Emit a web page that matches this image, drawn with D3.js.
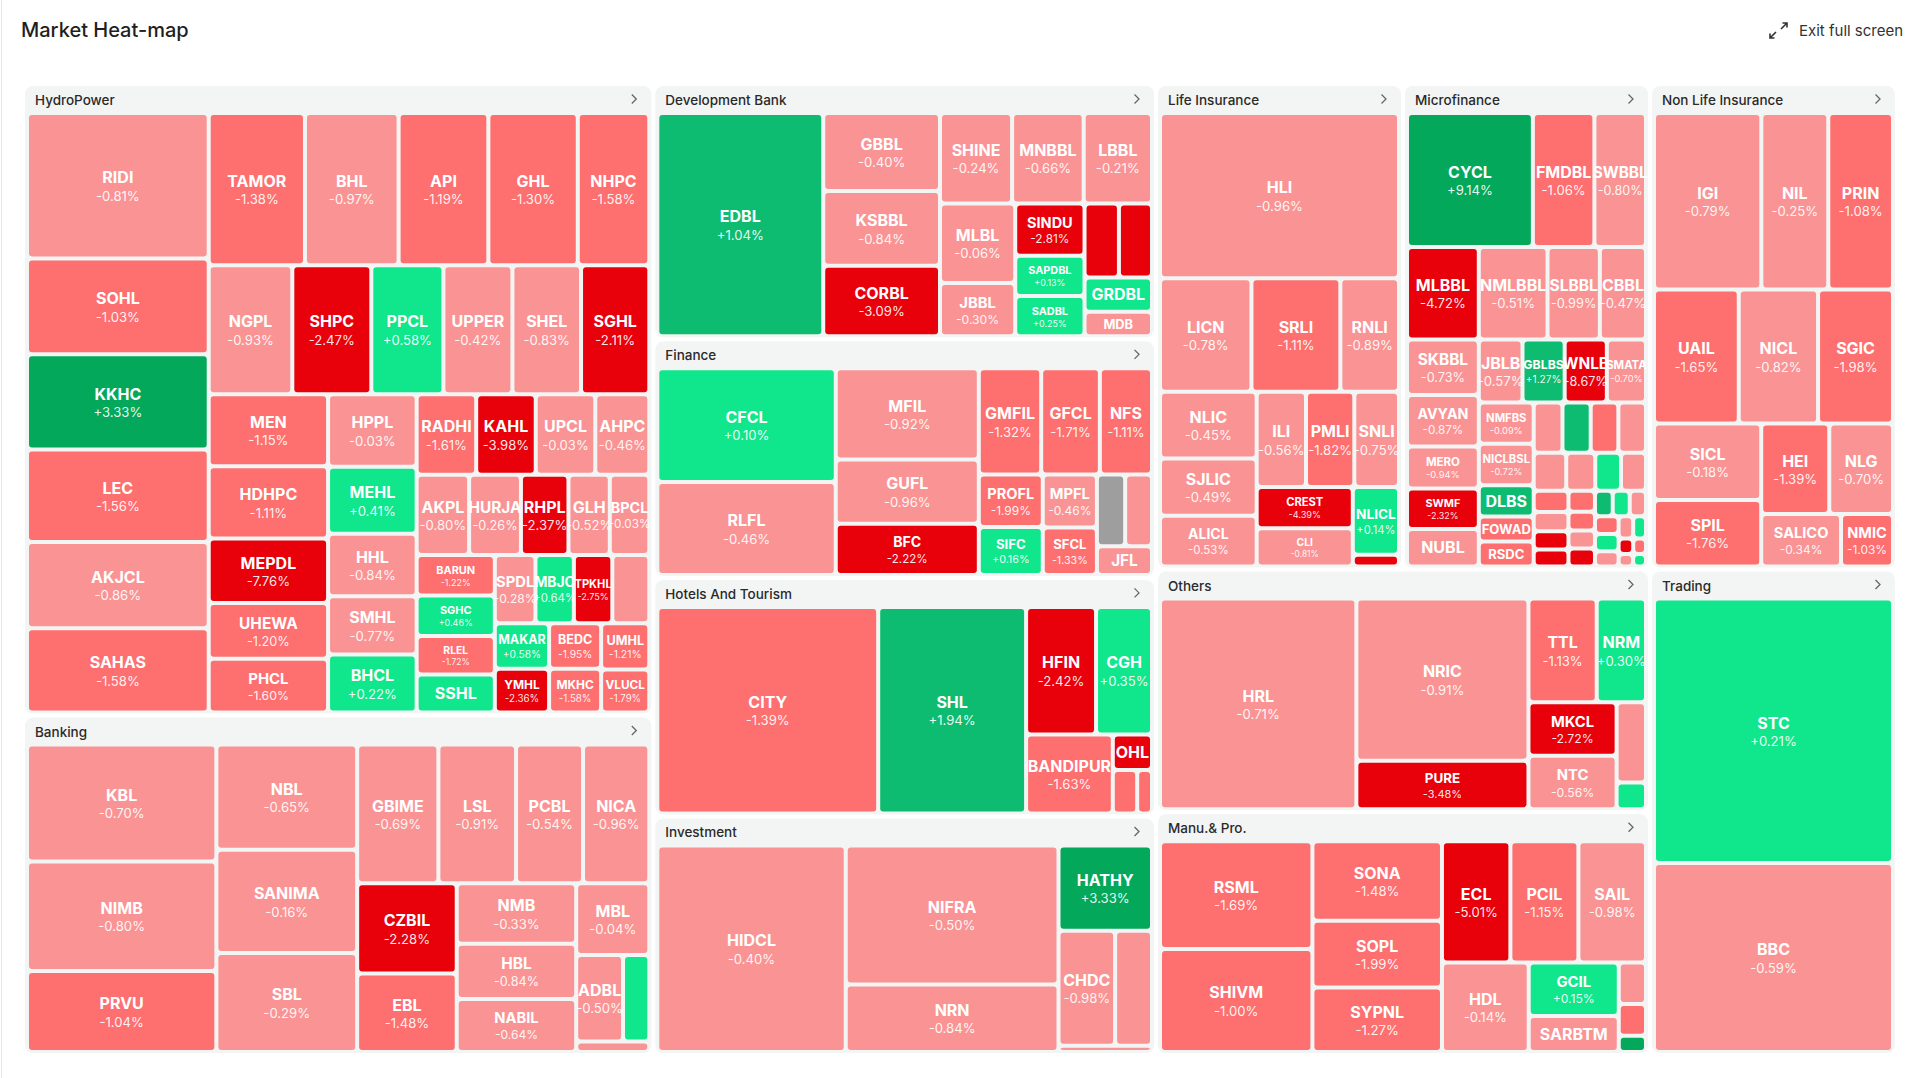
<!doctype html>
<html>
  <head>
    <meta charset="utf-8">
    <title>Market Heat-map</title>
    <script src="https://cdn.jsdelivr.net/npm/d3@7"></script>
    <style>
      body { margin: 0; background: #fff; }
      text { font-family: Inter, 'Noto Sans', sans-serif; }
    </style>
  </head>
  <body>
    <script>
      // sectors, in layout order, with the size each sector box gets
      const sectorNames = ['HydroPower', 'Banking', 'Development Bank', 'Finance', 'Hotels And Tourism', 'Investment',
        'Life Insurance', 'Microfinance', 'Non Life Insurance', 'Others', 'Manu.& Pro.', 'Trading'];
      const sectorSizes = [400, 215, 129, 120.5, 120.5, 120.5, 120.5, 120.5, 120.5, 120.5, 120.5, 120.5];

      // [symbol, weight, % change]; tiles without a visible label have an empty symbol
      const hydroPower = [
        ['RIDI', 267, -0.81], ['SOHL', 176, -1.03], ['KKHC', 175, 3.33], ['LEC', 170, -1.56], ['AKJCL', 158, -0.86],
        ['SAHAS', 155, -1.58], ['TAMOR', 148, -1.38], ['BHL', 144, -0.97], ['API', 138, -1.19], ['GHL', 137.5, -1.30],
        ['NHPC', 110, -1.58], ['NGPL', 109, -0.93], ['SHPC', 103, -2.47], ['PPCL', 94, 0.58], ['UPPER', 90, -0.42],
        ['SHEL', 89.5, -0.83], ['SGHL', 89, -2.11], ['MEN', 87, -1.15], ['HDHPC', 87, -1.11], ['MEPDL', 78, -7.76],
        ['UHEWA', 67, -1.20], ['PHCL', 65, -1.60], ['HPPL', 65, -0.03], ['MEHL', 60, 0.41], ['HHL', 56, -0.84],
        ['SMHL', 52, -0.77], ['BHCL', 52, 0.22], ['RADHI', 48.5, -1.61], ['KAHL', 48.5, -3.98], ['UPCL', 48.5, -0.03],
        ['AHPC', 44, -0.46], ['AKPL', 42.5, -0.80], ['HURJA', 42, -0.26], ['RHPL', 38.5, -2.37], ['GLH', 33.5, -0.52],
        ['BPCL', 32, -0.03], ['BARUN', 32, -1.22], ['SGHC', 32, 0.46], ['RLEL', 30.5, -1.72], ['SSHL', 30, 0.30],
        ['SPDL', 28, -0.28], ['MBJC', 26.5, 0.64], ['TPKHL', 26.5, -2.75], ['', 25.5, -0.50], ['MAKAR', 25, 0.58],
        ['YMHL', 24, -2.36], ['BEDC', 24, -1.95], ['MKHC', 23, -1.58], ['UMHL', 22.5, -1.21], ['VLUCL', 21, -1.79]
      ];
      const banking = [
        ['KBL', 224, -0.70], ['NIMB', 210, -0.80], ['PRVU', 155, -1.04], ['NBL', 150, -0.65], ['SANIMA', 147, -0.16],
        ['SBL', 141, -0.29], ['GBIME', 114, -0.69], ['LSL', 109, -0.91], ['PCBL', 94, -0.54], ['NICA', 93, -0.96],
        ['CZBIL', 91, -2.28], ['EBL', 79, -1.48], ['NMB', 73, -0.33], ['HBL', 67, -0.84], ['NABIL', 64, -0.64],
        ['MBL', 53, -0.04], ['ADBL', 41, -0.50], ['', 23, 0.50], ['', 7.8, -0.50]
      ];
      const developmentBank = [
        ['EDBL', 378, 1.04], ['GBBL', 93, -0.40], ['KSBBL', 89, -0.84], ['CORBL', 84, -3.09], ['SHINE', 66.5, -0.24],
        ['MNBBL', 66, -0.66], ['LBBL', 63, -0.21], ['MLBL', 61, -0.06], ['JBBL', 41, -0.30], ['SINDU', 37, -2.81],
        ['SAPDBL', 28.5, 0.13], ['SADBL', 28.5, 0.25], ['', 26, -2.50], ['', 25, -2.50], ['GRDBL', 23.5, 0.50],
        ['MDB', 17, -0.50]
      ];
      const finance = [
        ['CFCL', 205, 0.10], ['RLFL', 168, -0.46], ['MFIL', 132, -0.92], ['GUFL', 93, -0.96], ['BFC', 74, -2.22],
        ['GMFIL', 67, -1.32], ['GFCL', 63, -1.71], ['NFS', 56, -1.11], ['PROFL', 34, -1.99], ['SIFC', 31, 0.16],
        ['MPFL', 29, -0.46], ['SFCL', 26, -1.33], ['', 20.5, 0], ['', 19.5, -0.50], ['JFL', 16, -0.50]
      ];
      const hotels = [
        ['CITY', 460, -1.39], ['SHL', 308, 1.94], ['HFIN', 90, -2.42], ['CGH', 72, 0.35], ['BANDIPUR', 69, -1.63],
        ['OHL', 14, -2.50], ['', 10.7, -1.50], ['', 6.5, -1.50]
      ];
      const investment = [
        ['HIDCL', 395, -0.40], ['NIFRA', 300, -0.50], ['NRN', 146, -0.84], ['HATHY', 81, 3.33], ['CHDC', 66, -0.98],
        ['', 43, -0.50], ['', 6, -0.50]
      ];
      const lifeInsurance = [
        ['HLI', 403, -0.96], ['LICN', 106, -0.78], ['SRLI', 103, -1.11], ['RNLI', 68, -0.89], ['NLIC', 66, -0.45],
        ['SJLIC', 56.5, -0.49], ['ALICL', 50, -0.53], ['ILI', 48, -0.56], ['PMLI', 47, -1.82], ['SNLI', 43.5, -0.75],
        ['CREST', 40.5, -4.39], ['CLI', 37.5, -0.81], ['NLICL', 32, 0.14], ['', 5.5, -2.50]
      ];
      const microfinance = [
        ['CYCL', 178, 9.14], ['FMDBL', 87, -1.06], ['SWBBL', 73, -0.80], ['MLBBL', 70, -4.72], ['NMLBBL', 67, -0.51],
        ['SLBBL', 51, -0.99], ['CBBL', 45, -0.47], ['SKBBL', 42, -0.73], ['AVYAN', 39, -0.87], ['MERO', 32, -0.94],
        ['SWMF', 30.5, -2.32], ['NUBL', 28.5, -0.50], ['JBLB', 29, -0.57], ['GBLBS', 28, 1.27], ['WNLB', 28, -8.67],
        ['SMATA', 26, -0.70], ['NMFBS', 24, -0.09], ['NICLBSL', 24, -0.72], ['DLBS', 18, 1.50], ['FOWAD', 14.5, -1.50],
        ['RSDC', 14.5, -1.50],
        ['', 15.3, -0.50], ['', 15, 1.50], ['', 14.7, -1.50], ['', 14.7, -0.50],
        ['', 13, -0.50], ['', 11.6, -0.50], ['', 10.3, 0.50], ['', 10, -0.50],
        ['', 7.8, -1.50], ['', 7.1, -0.50], ['', 6.7, -2.50], ['', 6.2, -2.50],
        ['', 5.9, -1.50], ['', 5.2, -1.50], ['', 5.1, -0.50], ['', 5.0, -2.50],
        ['', 4.8, 1.50], ['', 4.6, 0.50], ['', 4.4, -0.50],
        ['', 4.4, -1.50], ['', 4.3, 0.50], ['', 3.8, -0.50],
        ['', 3.4, -0.50], ['', 3.0, 0.50], ['', 2.4, -2.50], ['', 2.1, -1.50], ['', 1.9, -0.50], ['', 1.7, 0.50]
      ];
      const nonLifeInsurance = [
        ['IGI', 194, -0.79], ['NIL', 121, -0.25], ['PRIN', 117, -1.08], ['UAIL', 116.5, -1.65], ['NICL', 109, -0.82],
        ['SGIC', 103, -1.98], ['SICL', 84, -0.18], ['SPIL', 73, -1.76], ['HEI', 63, -1.39], ['NLG', 59, -0.70],
        ['SALICO', 43, -0.34], ['NMIC', 28, -1.03]
      ];
      const others = [
        ['HRL', 421, -0.71], ['NRIC', 284, -0.91], ['PURE', 85, -3.48], ['TTL', 72, -1.13], ['NRM', 52, 0.30],
        ['MKCL', 48, -2.72], ['NTC', 48, -0.56], ['', 24, -0.50], ['', 8, 0.50]
      ];
      const manufacturing = [
        ['RSML', 167, -1.69], ['SHIVM', 160, -1.00], ['SONA', 105, -1.48], ['SOPL', 88, -1.99], ['SYPNL', 85, -1.27],
        ['ECL', 84.5, -5.01], ['PCIL', 84, -1.15], ['SAIL', 83.5, -0.98], ['HDL', 79, -0.14], ['GCIL', 49, 0.15],
        ['SARBTM', 33, -0.50], ['', 11.5, -0.50], ['', 8.8, -1.50], ['', 4.5, 2.50]
      ];
      const trading = [['STC', 636, 0.21], ['BBC', 454, -0.59]];

      const sectorStocks = [hydroPower, banking, developmentBank, finance, hotels, investment,
        lifeInsurance, microfinance, nonLifeInsurance, others, manufacturing, trading];

      const width = 1919;
      const height = 1078;
      const chart = { x: 25, y: 86, w: 1870, h: 967 };

      const color = d3.scaleThreshold()
          .domain([-2, -0.999, 0, 1, 2])
          .range(['#e8000b', '#fe6f6f', '#fa9494', '#10e68b', '#0dbc71', '#03a85b']);
      const fill = c => c === 0 ? '#9e9e9e' : color(c);
      const fmt = c => (c > 0 ? '+' : '') + c.toFixed(2) + '%';

      const svg = d3.select('body').append('svg')
          .attr('width', width)
          .attr('height', height);

      svg.append('line')
          .attr('x1', 1.5).attr('x2', 1.5).attr('y1', 0).attr('y2', height)
          .attr('stroke', '#e6e6e6');

      svg.append('text')
          .attr('x', 21).attr('y', 37)
          .attr('font-size', 20).attr('font-weight', 500).attr('fill', '#1f1f1f')
          .text('Market Heat-map');

      svg.append('path')
          .attr('d', 'M1781 29L1787 23M1782.5 23H1787V27.5M1776 32L1770 38M1770 33.5V38H1774.5')
          .attr('fill', 'none').attr('stroke', '#333').attr('stroke-width', 1.6);
      svg.append('text')
          .attr('x', 1799).attr('y', 36)
          .attr('font-size', 15).attr('fill', '#333')
          .text('Exit full screen');

      // hierarchy: sector size is fixed, stocks share it by weight
      const data = {
        children: sectorNames.map((name, i) => {
          const rows = sectorStocks[i];
          const total = d3.sum(rows, r => r[1]);
          return {
            name,
            children: rows.map(r => ({ symbol: r[0], value: r[1] / total * sectorSizes[i], change: r[2] }))
          };
        })
      };

      const root = d3.hierarchy(data).sum(d => d.children ? 0 : d.value);

      d3.treemap()
          .tile(d3.treemapSquarify)
          .size([chart.w, chart.h])
          .paddingInner(4)
          .paddingTop(d => d.depth === 1 ? 29 : 0)
          .paddingLeft(d => d.depth === 1 ? 4 : 0)
          .paddingRight(d => d.depth === 1 ? 4 : 0)
          .paddingBottom(d => d.depth === 1 ? 3 : 0)(root);

      const g = svg.append('g').attr('transform', `translate(${chart.x},${chart.y})`);

      root.children.forEach(sector => {
        const sg = g.append('g');
        sg.append('rect')
            .attr('x', sector.x0).attr('y', sector.y0)
            .attr('width', sector.x1 - sector.x0).attr('height', sector.y1 - sector.y0)
            .attr('rx', 8).attr('fill', '#f3f5f5');
        sg.append('text')
            .attr('x', sector.x0 + 10).attr('y', sector.y0 + 19)
            .attr('font-size', 13.5).attr('font-weight', 500).attr('fill', '#2a2a2a')
            .text(sector.data.name);
        const cx = sector.x1 - 17, cy = sector.y0 + 13;
        sg.append('path')
            .attr('d', `M${cx - 2.5},${cy - 4.5}L${cx + 2},${cy}L${cx - 2.5},${cy + 4.5}`)
            .attr('fill', 'none').attr('stroke', '#666').attr('stroke-width', 1.3);

        sector.children.forEach(d => {
          const w = d.x1 - d.x0, h = d.y1 - d.y0;
          const tile = sg.append('g');
          tile.append('rect')
              .attr('x', d.x0).attr('y', d.y0)
              .attr('width', w).attr('height', h)
              .attr('rx', 3).attr('fill', fill(d.data.change));

          const sym = d.data.symbol;
          if (!sym || w < 20 || h < 16) return;
          const twoLines = h >= 34;
          const fs = Math.min(16, w / (sym.length * 0.62), twoLines ? h * 0.3 : h * 0.62);
          const x = (d.x0 + d.x1) / 2, y = (d.y0 + d.y1) / 2;
          tile.append('text')
              .attr('x', x).attr('y', twoLines ? y - fs * 0.14 : y + fs * 0.36)
              .attr('text-anchor', 'middle')
              .attr('font-size', fs).attr('font-weight', 700).attr('fill', '#fff')
              .text(sym);
          if (twoLines) {
            tile.append('text')
                .attr('x', x).attr('y', y + fs * 0.95)
                .attr('text-anchor', 'middle')
                .attr('font-size', fs * 0.82).attr('fill', '#fff').attr('fill-opacity', 0.92)
                .text(fmt(d.data.change));
          }
        });
      });
    </script>
  </body>
</html>
